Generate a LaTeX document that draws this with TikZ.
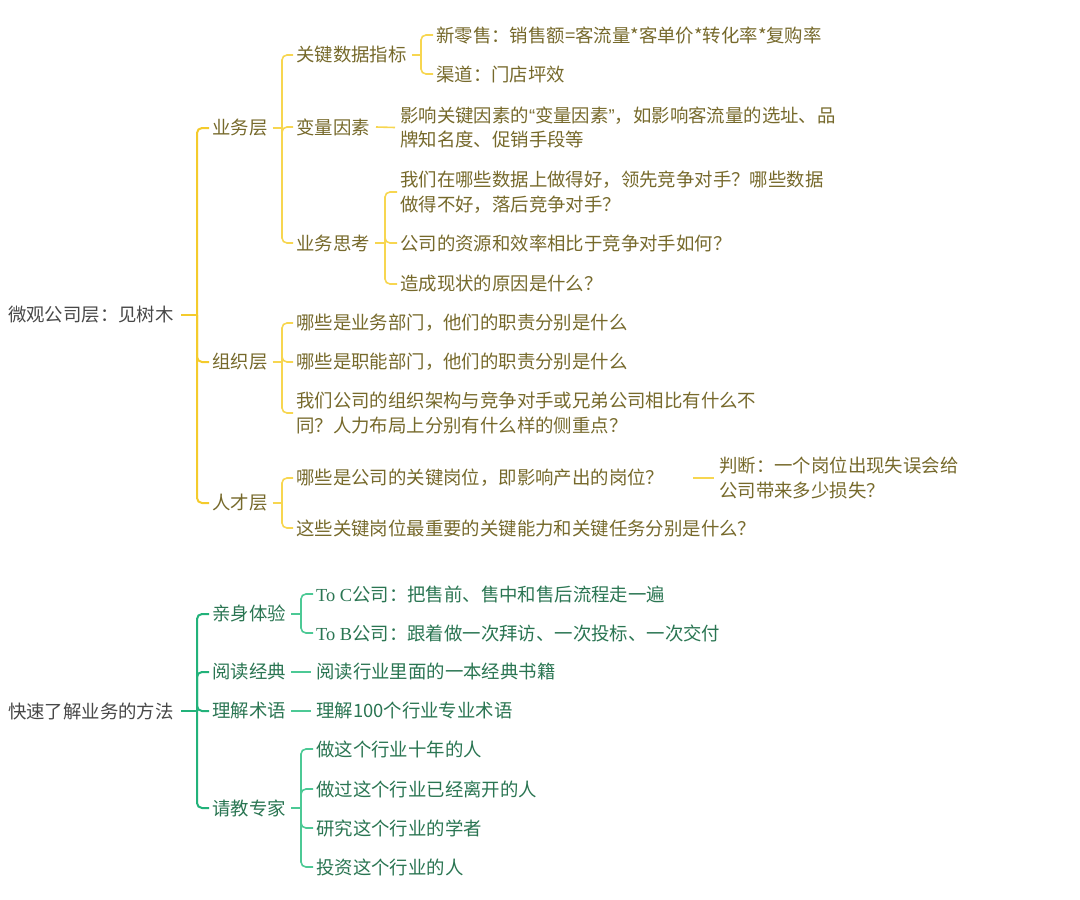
\documentclass[tikz,border=0pt]{standalone}
\usepackage{fontspec}
\setmainfont{Noto Sans CJK SC}
\newfontfamily\serifl{Liberation Serif}
\newfontfamily\latq{Liberation Sans}
\definecolor{ylw}{HTML}{F4CB2C}
\definecolor{ylwl}{HTML}{F7D650}
\definecolor{olive}{HTML}{76692B}
\definecolor{grn}{HTML}{22B27A}
\definecolor{grnl}{HTML}{4CC995}
\definecolor{gtxt}{HTML}{2A7552}
\definecolor{roottxt}{HTML}{484848}
\tikzset{
  txt/.style={inner sep=0pt, anchor=west, align=left, font=\fontsize{18.4}{24.5}\selectfont},
  rtxt/.style={txt, text=roottxt},
  ytxt/.style={txt, text=olive},
  gtxt/.style={txt, text=gtxt},
  yroot/.style={draw=ylw, line width=2pt, rounded corners=5pt},
  ysub/.style={draw=ylwl, line width=1.6pt, rounded corners=5pt},
  groot/.style={draw=grn, line width=2pt, rounded corners=5pt},
  gsub/.style={draw=grnl, line width=1.6pt, rounded corners=5pt}
}
\begin{document}
\begin{tikzpicture}[x=1pt,y=-1pt]
\useasboundingbox (0,0) rectangle (1080,900);

% ---------- top tree ----------
\node[rtxt] (r1) at (8,315) {微观公司层：见树木};
\node[ytxt] (yw) at (212,128) {业务层};
\node[ytxt] (zz) at (212,362) {组织层};
\node[ytxt] (rc) at (212,503) {人才层};
\node[ytxt] (kd) at (296,55) {关键数据指标};
\node[ytxt] (bl) at (296,127) {变量因素};
\node[ytxt] (sk) at (296,243) {业务思考};
\node[ytxt] (xl) at (436,35) {新零售：销售额=客流量*客单价*转化率*复购率};
\node[ytxt] (qd) at (436,74) {渠道：门店坪效};
\node[ytxt] (yx) at (400,127.5) {影响关键因素的{\latq “}变量因素{\latq ”}，如影响客流量的选址、品\\牌知名度、促销手段等};
\node[ytxt] (s1) at (400,192) {我们在哪些数据上做得好，领先竞争对手？哪些数据\\做得不好，落后竞争对手？};
\node[ytxt] (s2) at (400,243) {公司的资源和效率相比于竞争对手如何？};
\node[ytxt] (s3) at (400,284) {造成现状的原因是什么？};
\node[ytxt] (z1) at (296,323) {哪些是业务部门，他们的职责分别是什么};
\node[ytxt] (z2) at (296,362) {哪些是职能部门，他们的职责分别是什么};
\node[ytxt] (z3) at (296,413) {我们公司的组织架构与竞争对手或兄弟公司相比有什么不\\同？人力布局上分别有什么样的侧重点？};
\node[ytxt] (c1) at (296,478) {哪些是公司的关键岗位，即影响产出的岗位？};
\node[ytxt] (c2) at (296,528) {这些关键岗位最重要的关键能力和关键任务分别是什么？};
\node[ytxt] (pd) at (719,478) {判断：一个岗位出现失误会给\\公司带来多少损失？};

\coordinate (J1) at (197,315);
\coordinate (Jyw) at (282,128);
\coordinate (Jzz) at (282,362);
\coordinate (Jrc) at (282,503);
\coordinate (Jkd) at (421,55);
\coordinate (Jsk) at (385,243);

\draw[yroot] ([xshift=7pt]r1.east) -- (J1);
\foreach \c in {yw,zz,rc} \draw[yroot] (J1) |- ([xshift=-3pt]\c.west);

\draw[ysub] ([xshift=5pt]yw.east) -- (Jyw);
\foreach \c in {kd,bl,sk} \draw[ysub] (Jyw) |- ([xshift=-3pt]\c.west);
\draw[ysub] ([xshift=5pt]kd.east) -- (Jkd);
\foreach \c in {xl,qd} \draw[ysub] (Jkd) |- ([xshift=-3pt]\c.west);
\draw[ysub] ([xshift=6pt]bl.east) -- ([xshift=-5pt]yx.west);
\draw[ysub] ([xshift=5pt]sk.east) -- (Jsk);
\foreach \c in {s1,s2,s3} \draw[ysub] (Jsk) |- ([xshift=-3pt]\c.west);

\draw[ysub] ([xshift=5pt]zz.east) -- (Jzz);
\foreach \c in {z1,z2,z3} \draw[ysub] (Jzz) |- ([xshift=-3pt]\c.west);
\draw[ysub] ([xshift=5pt]rc.east) -- (Jrc);
\foreach \c in {c1,c2} \draw[ysub] (Jrc) |- ([xshift=-3pt]\c.west);
\draw[ysub] ([xshift=29pt]c1.east) -- ([xshift=-5pt]pd.west);

% ---------- bottom tree ----------
\node[rtxt] (r2) at (8,711) {快速了解业务的方法};
\node[gtxt] (g1) at (212,614) {亲身体验};
\node[gtxt] (g2) at (212,672) {阅读经典};
\node[gtxt] (g3) at (212,711) {理解术语};
\node[gtxt] (g4) at (212,808) {请教专家};
\node[gtxt] (t1) at (316,594) {{\serifl To C}公司：把售前、售中和售后流程走一遍};
\node[gtxt] (t2) at (316,633) {{\serifl To B}公司：跟着做一次拜访、一次投标、一次交付};
\node[gtxt] (rd) at (316,672) {阅读行业里面的一本经典书籍};
\node[gtxt] (lj) at (316,711) {理解100个行业专业术语};
\node[gtxt] (e1) at (316,749) {做这个行业十年的人};
\node[gtxt] (e2) at (316,789) {做过这个行业已经离开的人};
\node[gtxt] (e3) at (316,828) {研究这个行业的学者};
\node[gtxt] (e4) at (316,867) {投资这个行业的人};

\coordinate (J2) at (197,711);
\coordinate (Jg1) at (301,614);
\coordinate (Jg4) at (301,808);

\draw[groot] ([xshift=7pt]r2.east) -- (J2);
\foreach \c in {g1,g2,g3,g4} \draw[groot] (J2) |- ([xshift=-3pt]\c.west);
\draw[gsub] ([xshift=5pt]g1.east) -- (Jg1);
\foreach \c in {t1,t2} \draw[gsub] (Jg1) |- ([xshift=-3pt]\c.west);
\draw[gsub] ([xshift=5pt]g2.east) -- ([xshift=-5pt]rd.west);
\draw[gsub] ([xshift=5pt]g3.east) -- ([xshift=-5pt]lj.west);
\draw[gsub] ([xshift=5pt]g4.east) -- (Jg4);
\foreach \c in {e1,e2,e3,e4} \draw[gsub] (Jg4) |- ([xshift=-3pt]\c.west);
\end{tikzpicture}
\end{document}
